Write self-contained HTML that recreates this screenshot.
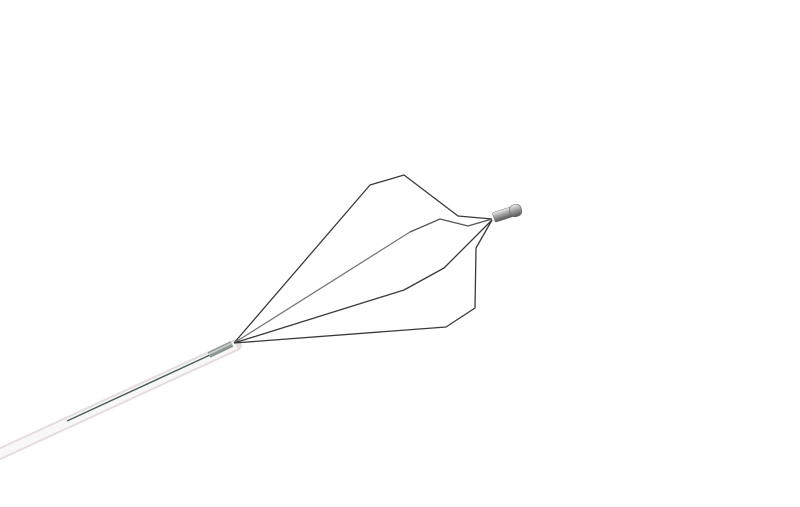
<!DOCTYPE html>
<html><head><style>body{margin:0;background:#fff}svg{display:block}</style></head><body>
<svg width="800" height="507" viewBox="0 0 800 507" xmlns="http://www.w3.org/2000/svg">
<defs>
<linearGradient id="m" x1="0" y1="0" x2="0" y2="1"><stop offset="0" stop-color="#eee"/><stop offset="0.4" stop-color="#aaa"/><stop offset="1" stop-color="#555"/></linearGradient>
</defs>
<!-- sheath -->
<line x1="-5" y1="456" x2="236" y2="345" stroke="#e6dcdc" stroke-width="12" stroke-linecap="round"/>
<line x1="-5" y1="456" x2="236" y2="345" stroke="#f8f8f8" stroke-width="8"/>
<line x1="67" y1="421" x2="210" y2="355" stroke="#4e5e58" stroke-width="1.5"/>
<line x1="209" y1="355" x2="232" y2="344" stroke="#8a9590" stroke-width="6"/>
<line x1="209" y1="354" x2="232" y2="343" stroke="#c6ccc9" stroke-width="2"/>
<!-- wires -->
<g fill="none" stroke="#3a3a3a" stroke-width="1.3" stroke-linejoin="round">
<polyline points="234,343 370,185 404,175 458,216 492,219"/>
<polyline points="234,343 410,232" stroke="#777"/>
<polyline points="410,232 440,219 468,226 492,219" stroke="#555"/>
<polyline points="234,343 404,290 444,268 492,220"/>
<polyline points="234,343 446,327 475,308 476,248 492,220"/>
</g>
<!-- tip -->
<g transform="translate(508,213) rotate(-18)">
<rect x="-15" y="-5" width="22" height="10" rx="1.5" fill="url(#m)" stroke="#777" stroke-width="0.5"/>
<rect x="2" y="-6" width="12" height="12" rx="5" fill="url(#m)" stroke="#666" stroke-width="0.6"/>
</g>
</svg>
</body></html>
